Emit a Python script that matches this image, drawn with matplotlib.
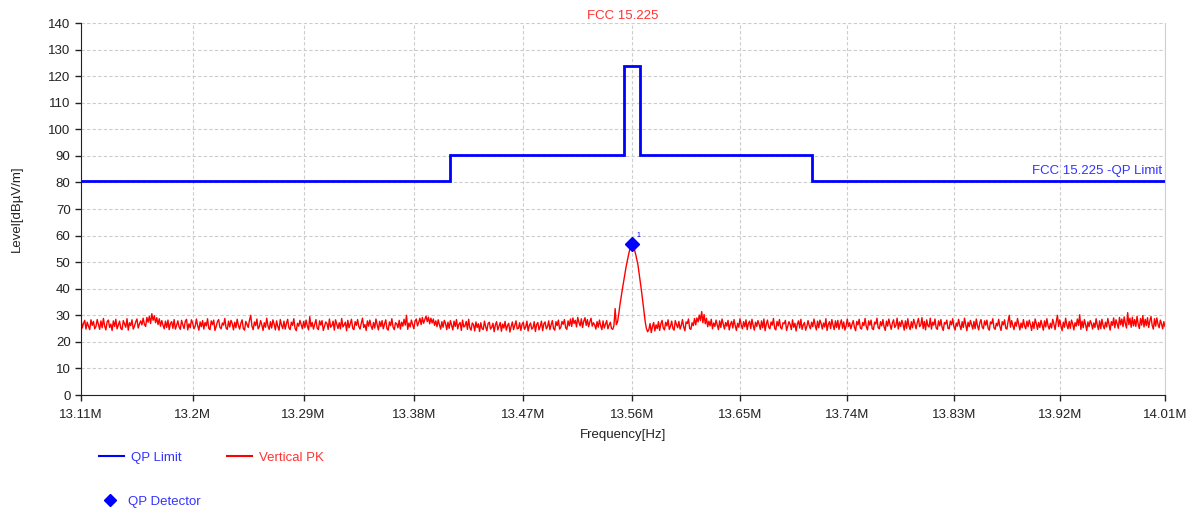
import matplotlib
matplotlib.use("Agg")
import matplotlib.pyplot as plt
from matplotlib.lines import Line2D
import numpy as np

plt.rcParams['font.family'] = ['Liberation Sans', 'DejaVu Sans']

# sweep 13.11M .. 14.01M
f_start = 13.11e6
f_stop = 14.01e6

# FCC 15.225 QP limit
limit_edges = [13.11e6, 13.41e6, 13.553e6, 13.567e6, 13.71e6, 14.01e6]
limit_levels = [80.5, 90.5, 124.0, 90.5, 80.5]

# Vertical PK trace (1 kHz steps)
# left noise floor 13.110M .. 13.545M
left_span = (13.110e6, 13.545e6)
noise_left = [
    28.6, 25.2, 26.9, 28.1, 24.8, 27.4, 25.9, 24.6, 28.3, 26.2, 27.7, 24.9, 25.8, 28.4, 26.5, 24.7, 27.9, 25.3, 28.8, 26.0,
    24.5, 27.6, 28.2, 25.4, 26.7, 24.3, 27.9, 25.8, 28.5, 24.9, 26.3, 27.8, 25.1, 24.6, 28.0, 26.8, 25.5, 28.7, 24.4, 27.2,
    26.1, 28.3, 24.8, 25.9, 27.5, 28.6, 25.2, 26.7, 27.9, 26.4, 28.9, 26.6, 25.8, 29.2, 27.4, 29.6, 26.9, 30.6, 28.1, 29.8,
    27.2, 29.1, 26.5, 28.7, 25.9, 28.0, 26.3, 24.9, 27.8, 25.4, 28.2, 24.6, 26.9, 27.6, 25.1, 28.4, 24.8, 26.2, 27.9, 25.6,
    24.7, 28.1, 26.4, 25.0, 27.7, 28.5, 24.5, 26.8, 25.3, 28.3, 27.0, 24.9, 25.9, 28.6, 26.1, 24.4, 27.5, 25.7, 28.0, 24.8,
    27.3, 26.0, 28.7, 25.1, 24.6, 27.9, 26.5, 28.2, 24.3, 25.8, 27.6, 28.4, 25.5, 24.9, 27.1, 26.3, 28.8, 25.2, 24.7, 27.8,
    25.6, 28.1, 26.9, 24.5, 27.4, 25.3, 28.5, 26.2, 24.8, 27.0, 28.3, 25.0, 24.4, 27.7, 26.6, 25.4, 28.2, 30.0, 25.9, 24.6,
    27.5, 26.1, 28.6, 24.9, 25.7, 28.0, 26.4, 24.3, 27.2, 25.5, 28.9, 26.0, 24.7, 27.6, 25.2, 28.3, 26.7, 24.5, 27.9, 25.8,
    24.4, 28.4, 26.3, 25.0, 27.8, 24.8, 26.9, 28.5, 25.3, 24.6, 27.4, 26.2, 28.7, 25.1, 24.2, 27.0, 25.9, 28.1, 26.5, 24.9,
    27.7, 25.4, 28.2, 26.0, 24.5, 29.5, 25.7, 27.3, 24.8, 26.6, 28.4, 25.2, 24.6, 27.9, 26.3, 28.0, 24.3, 25.8, 27.5, 26.9,
    24.7, 28.6, 25.5, 26.1, 27.8, 24.4, 28.3, 26.7, 25.0, 27.2, 24.9, 28.8, 25.6, 26.4, 27.4, 24.2, 28.1, 25.3, 26.8, 28.5,
    25.1, 24.6, 27.6, 26.2, 28.4, 25.7, 24.8, 27.0, 28.9, 25.4, 26.5, 24.3, 27.9, 25.9, 28.2, 26.0, 24.7, 27.3, 25.2, 28.6,
    26.4, 24.5, 27.7, 25.8, 28.0, 24.9, 26.7, 28.3, 25.0, 24.4, 27.5, 26.1, 28.7, 25.5, 24.6, 27.2, 26.8, 25.3, 28.1, 24.8,
    27.4, 25.9, 28.5, 26.3, 30.0, 24.7, 27.1, 25.6, 28.2, 26.6, 24.9, 27.8, 28.6, 26.0, 27.3, 28.9, 26.5, 29.2, 27.0, 28.4,
    29.7, 27.6, 29.3, 26.8, 28.9, 27.1, 28.6, 26.2, 27.9, 25.7, 28.3, 26.4, 24.8, 27.6, 25.5, 28.1, 26.9, 24.6, 27.4, 25.1,
    28.0, 26.2, 24.5, 27.8, 25.8, 28.4, 24.9, 26.6, 27.3, 24.3, 28.2, 25.6, 26.0, 27.7, 24.7, 28.5, 25.3, 24.4, 27.1, 26.5,
    24.1, 27.5, 25.4, 26.8, 23.9, 27.2, 25.0, 24.6, 27.8, 25.7, 24.2, 26.9, 27.4, 24.8, 25.5, 27.0, 23.8, 26.4, 27.6, 24.5,
    25.9, 27.3, 24.0, 26.7, 25.2, 27.7, 24.4, 26.1, 27.0, 23.7, 25.8, 27.5, 24.6, 26.3, 27.9, 24.9, 25.1, 27.2, 24.3, 26.6,
    27.4, 24.7, 25.6, 27.8, 24.1, 26.2, 27.1, 24.8, 25.3, 27.6, 23.9, 26.5, 27.3, 24.5, 25.9, 27.8, 24.2, 26.8, 27.5, 24.9,
    25.7, 27.9, 24.6, 26.4, 28.0, 25.0, 24.4, 27.6, 26.1, 28.2, 24.8, 25.5, 27.7, 26.6, 28.4, 25.3, 24.7, 27.9, 26.0, 28.6,
    25.8, 29.0, 26.9, 28.1, 25.6, 29.2, 27.3, 26.0, 28.7, 25.4, 27.8, 29.1, 26.2, 28.4, 25.7, 27.5, 28.9, 25.9, 27.2, 26.4,
    24.8, 27.6, 25.5, 28.2, 26.1, 24.6, 27.9, 25.2, 26.7, 28.0, 24.9, 26.3, 27.4, 25.0, 24.7, 26.1,
]
# carrier at 13.56M
peak_freq = [13.546, 13.547, 13.548, 13.549, 13.550, 13.551, 13.552, 13.553, 13.554,
             13.555, 13.556, 13.557, 13.558, 13.559, 13.560, 13.561, 13.562, 13.563,
             13.564, 13.565, 13.566, 13.567, 13.568, 13.569, 13.570, 13.571, 13.572]
peak = [32.5, 26.5, 27.5, 30.5, 34.0, 37.0, 39.8, 42.5, 45.2,
        48.0, 50.3, 52.5, 54.5, 56.0, 56.8, 56.2, 54.8, 53.0,
        51.0, 48.8, 45.5, 42.0, 38.8, 35.0, 31.0, 27.5, 25.0]
# right noise floor 13.573M .. 14.010M
right_span = (13.573e6, 14.010e6)
noise_right = [
    23.8, 24.6, 26.9, 23.5, 25.8, 27.3, 24.1, 26.4, 25.0, 27.6, 24.3, 26.8, 28.1, 25.2, 24.5, 27.4, 26.0, 28.3, 24.7, 25.9,
    27.8, 25.1, 24.4, 28.0, 26.5, 25.3, 27.7, 24.8, 26.2, 28.4, 25.6, 24.2, 27.5, 26.9, 28.6, 25.0, 24.7, 27.2, 26.1, 28.8,
    26.4, 29.0, 27.5, 30.1, 28.0, 31.4, 27.2, 30.3, 26.8, 28.9, 25.7, 27.8, 26.0, 28.5, 24.9, 27.1, 25.8, 28.2, 26.3, 24.6,
    27.9, 25.4, 28.6, 26.7, 24.8, 27.3, 25.9, 28.1, 24.5, 26.6, 27.7, 25.2, 28.4, 26.1, 24.3, 27.0, 25.5, 28.7, 26.4, 24.9,
    27.6, 25.7, 28.3, 24.6, 26.9, 27.8, 25.0, 28.5, 26.2, 24.4, 27.4, 25.8, 28.0, 26.6, 24.7, 27.9, 25.3, 28.6, 24.2, 26.7,
    28.2, 25.6, 24.9, 27.5, 26.3, 28.8, 25.1, 24.5, 27.7, 26.0, 28.4, 25.4, 24.8, 27.2, 26.8, 28.1, 24.3, 25.9, 27.6, 26.5,
    24.6, 28.3, 25.5, 27.0, 24.1, 26.7, 27.9, 25.2, 28.5, 24.7, 26.4, 27.3, 24.4, 25.8, 28.0, 26.1, 24.9, 27.4, 25.7, 28.6,
    26.2, 24.5, 27.8, 25.3, 28.2, 26.9, 24.8, 27.1, 25.6, 28.7, 24.3, 26.5, 27.6, 25.0, 28.4, 26.3, 24.6, 27.9, 25.4, 28.1,
    24.7, 26.8, 28.3, 25.1, 27.5, 24.4, 26.0, 28.6, 25.8, 27.2, 24.9, 26.6, 28.0, 25.5, 24.2, 27.7, 26.4, 28.5, 25.2, 24.8,
    27.3, 26.1, 28.8, 25.7, 24.5, 27.9, 26.3, 28.2, 25.0, 24.6, 27.4, 26.7, 28.9, 25.3, 24.9, 27.6, 26.0, 28.4, 25.6, 24.3,
    27.8, 25.9, 28.6, 26.5, 24.7, 27.1, 28.3, 25.4, 26.2, 28.9, 24.8, 27.5, 25.8, 28.1, 26.6, 24.4, 27.9, 25.1, 28.7, 26.0,
    24.6, 27.6, 25.3, 28.5, 26.8, 24.9, 27.2, 28.8, 25.7, 26.4, 29.1, 25.0, 27.7, 24.5, 28.3, 26.1, 25.6, 28.9, 24.8, 27.4,
    26.3, 28.6, 25.2, 24.7, 27.9, 26.0, 28.4, 25.5, 24.3, 27.3, 26.7, 28.2, 25.1, 24.9, 27.8, 26.4, 28.7, 25.8, 24.4, 27.1,
    25.9, 28.5, 26.2, 24.6, 27.6, 25.4, 28.9, 26.6, 24.2, 27.4, 25.7, 28.1, 26.5, 24.8, 27.7, 25.0, 28.6, 26.1, 24.5, 27.2,
    28.4, 25.6, 24.9, 27.9, 26.3, 28.2, 25.2, 24.4, 27.5, 26.8, 28.7, 25.3, 24.7, 27.0, 26.0, 28.5, 25.8, 24.3, 27.6, 26.4,
    28.3, 25.1, 24.8, 27.7, 30.0, 25.5, 28.0, 26.2, 24.6, 27.4, 25.9, 28.8, 26.6, 24.5, 27.1, 25.3, 28.4, 26.0, 24.9, 27.8,
    25.7, 28.2, 26.5, 24.3, 27.5, 25.0, 28.6, 26.9, 24.7, 27.3, 25.4, 28.1, 26.3, 24.4, 27.9, 25.6, 28.7, 26.1, 24.8, 27.0,
    25.2, 28.5, 26.7, 24.6, 27.6, 30.0, 25.8, 28.3, 26.0, 24.2, 27.4, 25.5, 28.9, 26.4, 24.9, 27.7, 25.1, 28.2, 26.8, 24.5,
    27.2, 25.9, 28.6, 26.2, 30.2, 24.7, 27.8, 25.3, 28.4, 26.5, 24.3, 27.5, 25.7, 28.0, 26.9, 24.8, 27.1, 25.4, 28.7, 26.3,
    24.6, 27.9, 25.0, 28.5, 26.1, 24.9, 27.4, 25.6, 28.8, 26.6, 24.4, 27.6, 26.2, 29.0, 25.3, 28.3, 26.8, 25.1, 29.2, 26.4,
    28.6, 25.7, 29.4, 26.9, 25.2, 31.0, 26.5, 28.9, 25.5, 29.3, 26.0, 28.4, 25.8, 29.6, 26.7, 25.0, 28.8, 26.3, 29.9, 25.6,
    28.5, 26.1, 29.1, 25.4, 27.9, 29.5, 26.2, 24.8, 28.7, 25.9, 29.0, 26.6, 25.3, 28.2, 26.8, 24.9, 27.6, 25.8,
]

# QP detector result
qp_freq = [13.56e6]
qp_level = [56.8]
qp_label = ["1"]

xticks = [13.11, 13.2, 13.29, 13.38, 13.47, 13.56, 13.65, 13.74, 13.83, 13.92, 14.01]
xtick_labels = ["13.11M", "13.2M", "13.29M", "13.38M", "13.47M", "13.56M",
                "13.65M", "13.74M", "13.83M", "13.92M", "14.01M"]

pk_freq = np.concatenate([np.linspace(left_span[0], left_span[1], len(noise_left)),
                          np.array(peak_freq) * 1e6,
                          np.linspace(right_span[0], right_span[1], len(noise_right))])
pk_level = noise_left + peak + noise_right

fig = plt.figure(figsize=(11.94, 5.11), dpi=100)
ax = fig.add_axes([81/1194, 1 - 395/511, 1084/1194, 372/511])

ax.stairs(limit_levels, limit_edges, baseline=None, color='#0000ff', lw=2.0, zorder=3)
ax.plot(pk_freq, pk_level, color='#ff0000', lw=1.0, zorder=2)
ax.plot(qp_freq, qp_level, 'D', color='#0000ff', ms=7, zorder=4)
for f, l, t in zip(qp_freq, qp_level, qp_label):
    ax.annotate(t, (f, l), xytext=(3, 5), textcoords='offset points',
                color='#0000ff', fontsize=5)

ax.set_xscale('log')
ax.set_xlim(f_start, f_stop)
ax.set_ylim(0, 140)
ax.set_xticks([v * 1e6 for v in xticks])
ax.set_xticklabels(xtick_labels)
ax.xaxis.set_minor_locator(matplotlib.ticker.NullLocator())
ax.set_yticks(range(0, 141, 10))
ax.tick_params(labelsize=9.5, colors='#222222', length=4, width=1)
ax.tick_params(axis='x', pad=6)

ax.grid(True, color='#cccccc', linestyle=(0, (3, 2)), lw=0.8)
ax.set_axisbelow(True)
ax.spines['top'].set_visible(False)
ax.spines['right'].set_color('#d0d0d0')
ax.spines['left'].set_color('#222222')
ax.spines['bottom'].set_color('#222222')

ax.set_xlabel("Frequency[Hz]", fontsize=9.5, color='#222222', labelpad=6)
ax.set_ylabel("Level[dBµV/m]", fontsize=9.5, color='#222222', labelpad=18)
ax.set_title("FCC 15.225", fontsize=9.5, color='#ff3333', pad=3)

ax.text(0.997, 82.2, "FCC 15.225 -QP Limit", transform=ax.get_yaxis_transform(),
        ha='right', va='bottom', color='#3333ff', fontsize=9.5)

h1 = [Line2D([], [], color='#0000ff', lw=1.5), Line2D([], [], color='#ff0000', lw=1.5)]
fig.legend(h1, ["QP Limit", "Vertical PK"], loc='upper left',
           bbox_to_anchor=(87/1194, 1 - 440/511), ncol=2, frameon=False,
           fontsize=9.5, handlelength=1.9, handletextpad=0.55, columnspacing=3.4,
           labelcolor=['#3333ff', '#ff3333'])
h2 = [Line2D([], [], color='#0000ff', marker='D', ls='none', ms=6)]
fig.legend(h2, ["QP Detector"], loc='upper left',
           bbox_to_anchor=(87/1194, 1 - 484/511), frameon=False,
           fontsize=9.5, handlelength=1.67, handletextpad=0.55,
           labelcolor=['#3333ff'])

fig.savefig("out.png", dpi=100)
